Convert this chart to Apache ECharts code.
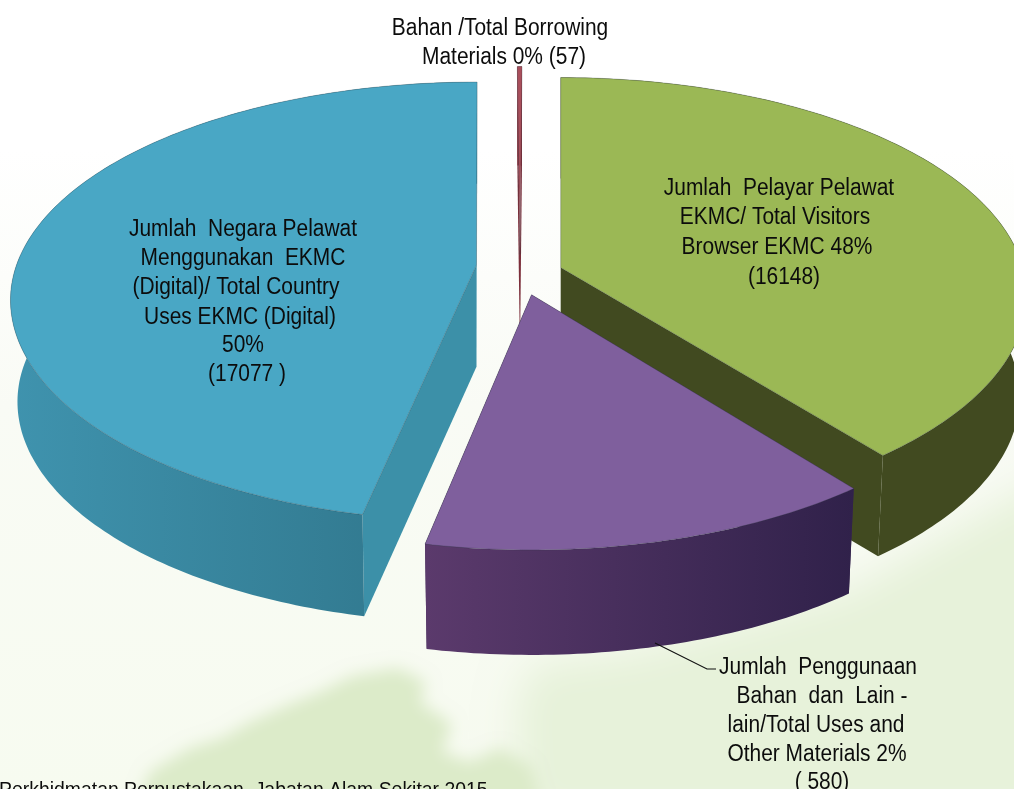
<!DOCTYPE html>
<html>
<head>
<meta charset="utf-8">
<title>EKMC</title>
<script src="https://cdn.jsdelivr.net/npm/echarts@6/dist/echarts.min.js"></script>
<style>
  html, body { margin: 0; padding: 0; background: #fff; overflow: hidden; }
  #myChart { width: 1014px; height: 789px; }
</style>
</head>
<body>
<div id="myChart"></div>
<script>
// slice sizes as drawn in the picture (percent of the circle), clockwise from the top
var sliceNames = ['Pelayar Pelawat', 'Penggunaan Bahan', 'Negara Pelawat', 'Pinjaman Bahan'];
var sliceShares = [37.78, 15.82, 46.24, 0.16];
var sliceOrder = [2, 3, 2, 1];

var topColors = ['#9bb855', '#7f5f9d', '#49a7c5', '#a94f5c'];
var cutColors = ['#414a20', '#3a2850', '#3c90a8', '#7c2f3b'];
var wallColors = [['#414a20', '#414a20'], ['#5b3a6c', '#30214a'], ['#3f93ae', '#2f7489'], ['#7c2f3b', '#7c2f3b']];

var greenLabel = ['Jumlah  Pelayar Pelawat', 'EKMC/ Total Visitors', 'Browser EKMC 48%', '(16148)'];
var blueLabel = ['Jumlah  Negara Pelawat', 'Menggunakan  EKMC', '(Digital)/ Total Country', 'Uses EKMC (Digital)', '50%', '(17077 )'];
var topLabel = ['Bahan /Total Borrowing', 'Materials 0% (57)'];
var purpleLabel = ['Jumlah  Penggunaan', 'Bahan  dan  Lain -', 'lain/Total Uses and', 'Other Materials 2%', '( 580)'];
var sourceText = 'Perkhidmatan Perpustakaan, Jabatan Alam Sekitar 2015';

var CX = 520, CY = 302, RX = 466, RY = 218;
var START_DEG = 0.25, EXPLODE = 0.094, DEPTH = 102, BOTTOM_SCALE = 0.985;
// the perspective of the original: near side a bit larger, apex not on the ellipse centre
var NEAR_RIM = 1.015, NEAR_SHIFT = 1.35, FAR_SHIFT = 0.85;
var apexLift = [28, 34, 35, 30];
// small corrections of the drawn edges, in degrees
var startNudge = [-0.25, 0, 0.95, 0];
var endNudge = [0, 0, 0.4, 0];
var total = sliceShares.reduce(function (a, b) { return a + b; }, 0);

function rimPoint(cx, cy, rx, deg) {
  var a = deg * Math.PI / 180;
  var c = Math.cos(a);
  return [cx + rx * Math.sin(a), cy - RY * c * (c < 0 ? NEAR_RIM : 1)];
}

function renderSlice(params, api) {
  var i = params.dataIndex;
  var before = 0;
  for (var k = 0; k < i; k++) before += sliceShares[k];
  var start = before / total * 360 + START_DEG;
  var end = start + api.value(0) / total * 360;
  var mid = (start + end) / 2 * Math.PI / 180;
  start += startNudge[i];
  end += endNudge[i];
  var cosMid = Math.cos(mid);
  var cx = CX + Math.sin(mid) * EXPLODE * RX;
  var cy = CY - cosMid * EXPLODE * RY * (cosMid < 0 ? NEAR_SHIFT : FAR_SHIFT);
  var depth = DEPTH * (1 - 0.03 * cosMid);
  var apex = [cx, cy - apexLift[i]];
  var apexLow = [cx, cy - apexLift[i] + depth];
  var rimTop = [], rimLow = [];
  for (var d = start; d < end; d += 1) {
    rimTop.push(rimPoint(cx, cy, RX, d));
    rimLow.push(rimPoint(cx, cy + depth, RX * BOTTOM_SCALE, d));
  }
  rimTop.push(rimPoint(cx, cy, RX, end));
  rimLow.push(rimPoint(cx, cy + depth, RX * BOTTOM_SCALE, end));
  var last = rimTop.length - 1;
  var z = sliceOrder[i];

  function poly(points, style, z2) {
    return { type: 'polygon', shape: { points: points }, style: style, z2: z2 };
  }
  return {
    type: 'group',
    children: [
      poly([apex, rimTop[0], rimLow[0], apexLow], { fill: cutColors[i] }, z * 10),
      poly([apex, rimTop[last], rimLow[last], apexLow], { fill: cutColors[i] }, z * 10),
      poly(rimTop.concat(rimLow.slice().reverse()), {
        fill: new echarts.graphic.LinearGradient(0, 0, 1, 0, [
          { offset: 0, color: wallColors[i][0] },
          { offset: 1, color: wallColors[i][1] }
        ])
      }, z * 10 + 1),
      poly([apex].concat(rimTop), {
        fill: topColors[i],
        stroke: 'rgba(40,50,60,0.35)',
        lineWidth: 0.8
      }, z * 10 + 2)
    ]
  };
}

function textLines(lines, places) {
  return lines.map(function (line, n) {
    return {
      type: 'text',
      z: 20,
      x: places[n][0],
      y: places[n][1],
      scaleX: 0.91,
      style: {
        text: line,
        fill: '#0c0c0c',
        font: '23px "Liberation Sans"',
        textAlign: 'center',
        textVerticalAlign: 'middle'
      }
    };
  });
}

// soft patch: the shape itself sits off the page, only its blurred shadow lands on it
function wash(points, color, blur) {
  return {
    type: 'polygon',
    z: 0,
    x: -3000,
    shape: { points: points },
    style: { fill: color, shadowColor: color, shadowBlur: blur, shadowOffsetX: 3000 }
  };
}

var backdrop = [
  {
    type: 'rect',
    z: 0,
    shape: { x: 0, y: 150, width: 1014, height: 639 },
    style: {
      fill: new echarts.graphic.LinearGradient(0, 0, 0, 1, [
        { offset: 0, color: '#ffffff' },
        { offset: 0.4, color: '#f9fbf5' },
        { offset: 1, color: '#f7fbf0' }
      ])
    }
  },
  wash([[524, 820], [516, 710], [530, 665], [640, 650], [850, 590], [1060, 470], [1060, 820]], '#e7f2da', 40),
  wash([[130, 820], [150, 772], [190, 748], [222, 738], [250, 722], [290, 704], [320, 692], [352, 676], [398, 668],
    [426, 682], [420, 702], [452, 724], [442, 752], [470, 762], [500, 748], [532, 766], [546, 820]], '#dcebc9', 16)
];

var leader = {
  type: 'polyline',
  z: 20,
  shape: { points: [[655, 643], [707, 669], [716, 669]] },
  style: { stroke: '#111', lineWidth: 1.2, fill: 'none' }
};

var greenPlaces = [[779, 189], [775, 218], [777, 248], [784, 278]];
var bluePlaces = [[243, 230], [243, 259], [236, 288], [240, 318], [243, 346], [247, 375]];
var topPlaces = [[500, 29], [504, 58]];
var purplePlaces = [[818, 668], [822, 697], [816, 726], [817, 755], [822, 783]];

var myChart = echarts.init(document.getElementById('myChart'), null, { renderer: 'canvas' });
myChart.setOption({
  animation: false,
  backgroundColor: '#ffffff',
  graphic: backdrop.concat(
    textLines(greenLabel, greenPlaces),
    textLines(blueLabel, bluePlaces),
    textLines(topLabel, topPlaces),
    textLines(purpleLabel, purplePlaces),
    [leader, {
      type: 'text',
      z: 20,
      x: -1,
      y: 790,
      scaleX: 0.924,
      style: { text: sourceText, fill: '#0c0c0c', font: '21px "Liberation Sans"', textVerticalAlign: 'middle' }
    }]
  ),
  series: [{
    type: 'custom',
    coordinateSystem: 'none',
    z: 5,
    renderItem: renderSlice,
    data: sliceShares.map(function (v, i) { return { name: sliceNames[i], value: [v] }; })
  }]
});
</script>
</body>
</html>
